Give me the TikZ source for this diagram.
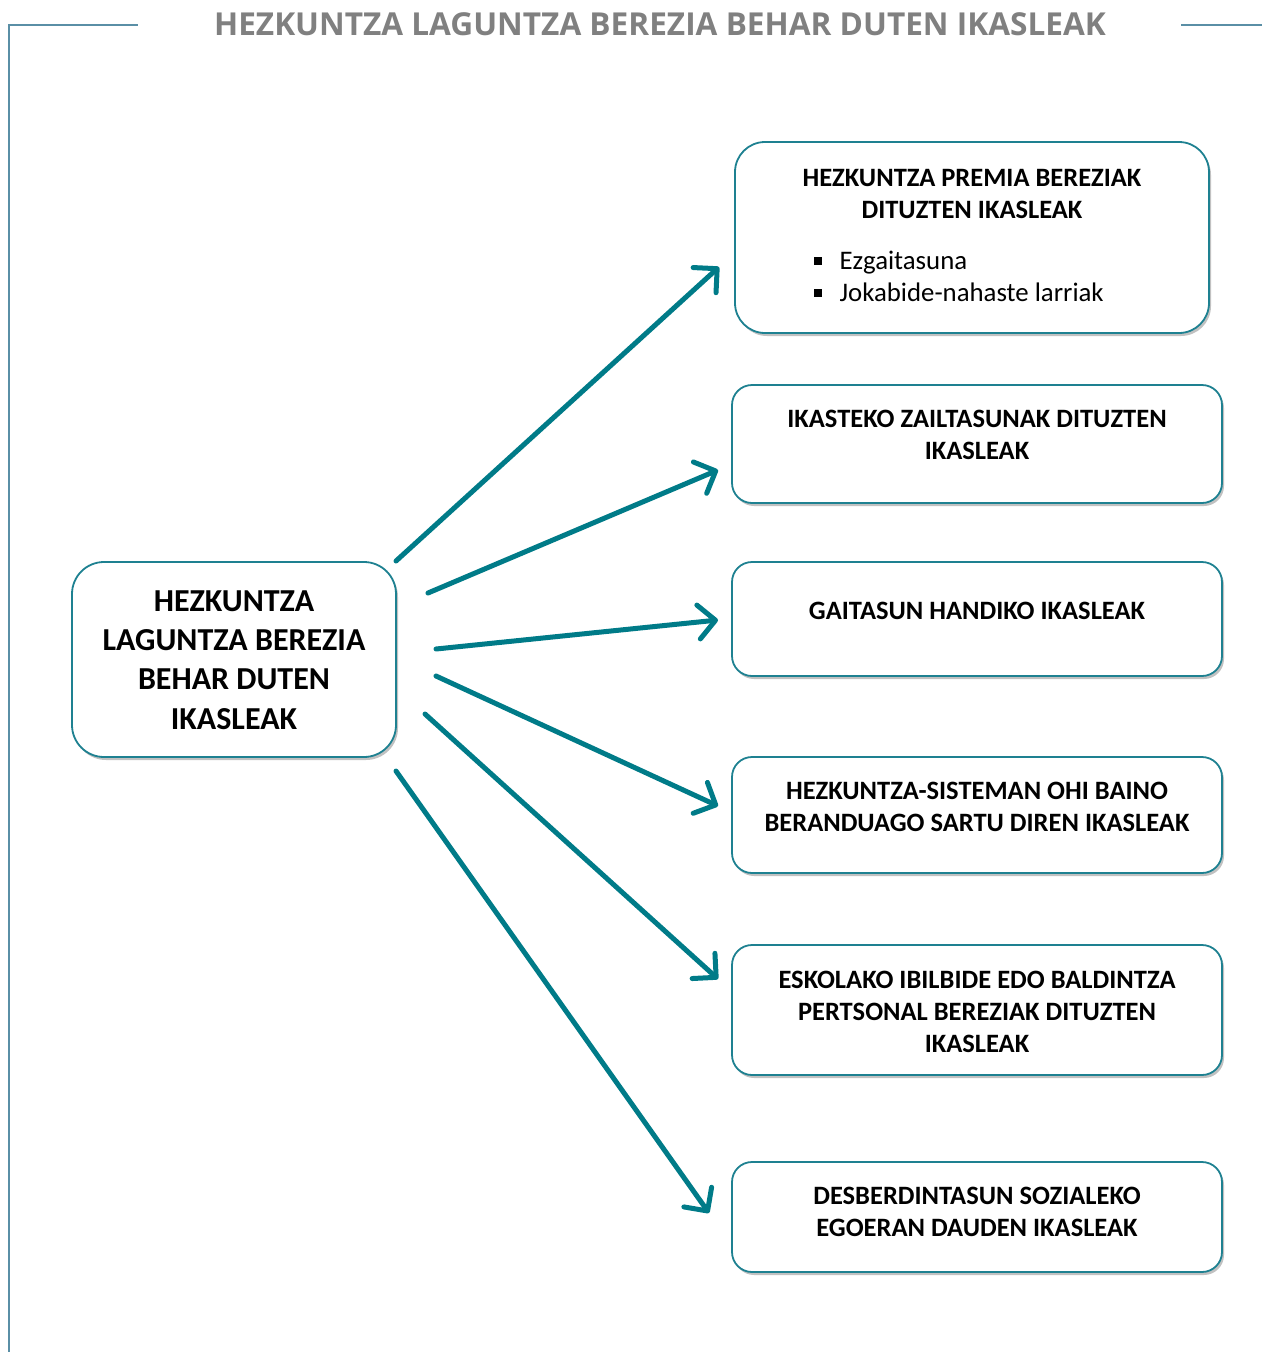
\documentclass[tikz,border=0pt]{standalone}
\usepackage{fontspec}
\setmainfont{Carlito}
\newfontfamily\titlefont{Open Sans}
\usetikzlibrary{arrows.meta,shadows}
\definecolor{frameblue}{HTML}{5A8FA6}
\definecolor{teal}{HTML}{007B88}
\definecolor{boxline}{HTML}{1E8191}
\definecolor{titlegray}{HTML}{808080}
\begin{document}
\begin{tikzpicture}[x=1pt,y=-1pt,
  box/.style={draw=boxline, line width=1.8pt, fill=white, inner sep=0pt,
    drop shadow={shadow xshift=2pt, shadow yshift=-3pt, fill=black!30, opacity=0.8}},
  boxtext/.style={font=\fontsize{26.5}{32}\selectfont\bfseries, align=center, inner sep=0pt, anchor=north},
  bigtext/.style={font=\fontsize{32}{39.2}\selectfont\bfseries, align=center, inner sep=0pt},
  bullettext/.style={font=\fontsize{26.8}{32}\selectfont, align=left, inner sep=0pt, anchor=north west},
  link/.style={draw=teal, line width=5pt, line cap=round,
    -{Straight Barb[length=17pt, width=34pt, round]}},
  frame/.style={draw=frameblue, line width=1.6pt}]
\useasboundingbox (0,0) rectangle (1262,1352);

% frame and title
\coordinate (fa) at (9,1352);
\coordinate (fb) at (9,25);
\coordinate (fc) at (138,25);
\coordinate (fd) at (1181,25);
\coordinate (fe) at (1262,25);
\draw[frame] (fa) -- (fb) -- (fc);
\draw[frame] (fd) -- (fe);
\node[font=\titlefont\fontsize{31.6}{36}\selectfont\bfseries, text=titlegray, inner sep=0pt] (title) at (660,24) {HEZKUNTZA LAGUNTZA BEREZIA BEHAR DUTEN IKASLEAK};

% left box
\node[box, rounded corners=32pt, minimum width=324pt, minimum height=195pt] (main) at (234,659.5) {};
\node[bigtext] (maint) at (234,660) {HEZKUNTZA\\LAGUNTZA BEREZIA\\BEHAR DUTEN\\IKASLEAK};

% right boxes
\node[box, rounded corners=30pt, minimum width=474pt, minimum height=191pt] (b1) at (972,237.5) {};
\node[boxtext] (t1) at (972,169.5) {HEZKUNTZA PREMIA BEREZIAK\\DITUZTEN IKASLEAK};
\node[bullettext] (t1b) at (814,251) {\rule[0.17em]{0.3em}{0.3em}\hspace{0.65em}Ezgaitasuna\\\rule[0.17em]{0.3em}{0.3em}\hspace{0.65em}Jokabide-nahaste larriak};

\node[box, rounded corners=20pt, minimum width=490pt, minimum height=118pt] (b2) at (977,444) {};
\node[boxtext] (t2) at (977,409.5) {IKASTEKO ZAILTASUNAK DITUZTEN\\IKASLEAK};

\node[box, rounded corners=20pt, minimum width=490pt, minimum height=114pt] (b3) at (977,619) {};
\node[boxtext] (t3) at (977,601.5) {GAITASUN HANDIKO IKASLEAK};

\node[box, rounded corners=20pt, minimum width=490pt, minimum height=116pt] (b4) at (977,815) {};
\node[boxtext] (t4) at (977,781.5) {HEZKUNTZA-SISTEMAN OHI BAINO\\BERANDUAGO SARTU DIREN IKASLEAK};

\node[box, rounded corners=20pt, minimum width=490pt, minimum height=130pt] (b5) at (977,1010) {};
\node[boxtext] (t5) at (977,970.5) {ESKOLAKO IBILBIDE EDO BALDINTZA\\PERTSONAL BEREZIAK DITUZTEN\\IKASLEAK};

\node[box, rounded corners=20pt, minimum width=490pt, minimum height=110pt] (b6) at (977,1217) {};
\node[boxtext] (t6) at (977,1186.5) {DESBERDINTASUN SOZIALEKO\\EGOERAN DAUDEN IKASLEAK};

% arrows
\coordinate (s1) at (396,561);  \coordinate (e1) at (719,267);
\coordinate (s2) at (428,593);  \coordinate (e2) at (718,470);
\coordinate (s3) at (436,649);  \coordinate (e3) at (718,620);
\coordinate (s4) at (436,676);  \coordinate (e4) at (718,806);
\coordinate (s5) at (425,714);  \coordinate (e5) at (718,979);
\coordinate (s6) at (396,771);  \coordinate (e6) at (709,1213);
\draw[link] (s1) -- (e1);
\draw[link] (s2) -- (e2);
\draw[link] (s3) -- (e3);
\draw[link] (s4) -- (e4);
\draw[link] (s5) -- (e5);
\draw[link] (s6) -- (e6);
\end{tikzpicture}
\end{document}
